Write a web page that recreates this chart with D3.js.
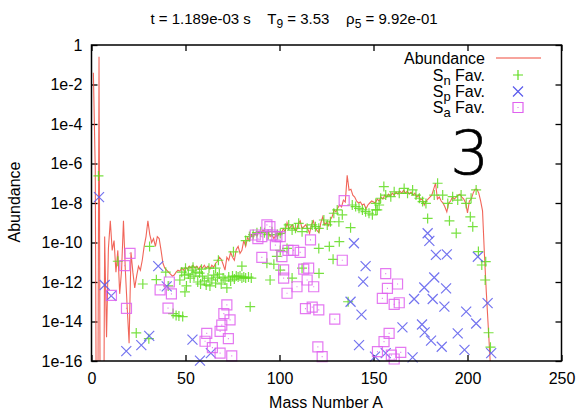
<!DOCTYPE html>
<html>
<head>
<meta charset="utf-8">
<script src="https://cdn.jsdelivr.net/npm/d3@7"></script>
<style>
  body { margin: 0; background: #fff; }
  svg text { font-family: "Liberation Sans", Arial, Helvetica, sans-serif; fill: #000; white-space: pre; }
</style>
</head>
<body>
<svg id="chart" width="577" height="414"></svg>
<script>
// log10 of the summed abundance for mass number A = index + 1
const abundanceLog = [
  -1.4, -6.3, -30, -0.6, -30, -30, -9.7, -14.8, -10.3, -8.9,
  -10.4, -9.9, -11.5, -10.4, -12.6, -11.4, -8.9, -11.4, -13.3, -15.1,
  -10.5, -11.5, -12.3, -11.7, -11.2, -11.4, -10.9, -10.2, -9.7, -8.9,
  -9.6, -10.0, -9.8, -10.2, -9.7, -9.8, -10.4, -11.05, -11.3, -11.4,
  -11.5, -11.6, -11.7, -11.65, -11.5, -11.4, -11.45, -11.3, -11.4, -11.25,
  -11.35, -11.2, -11.3, -11.15, -11.3, -11.2, -11.35, -11.2, -11.3, -11.15,
  -11.3, -11.2, -11.35, -11.15, -11.25, -11.05, -10.95, -10.75, -10.85, -11.1,
  -11.4, -10.75, -10.9, -10.5, -10.75, -10.9, -10.35, -10.2, -10.55, -10.4,
  -9.9, -10.2, -9.75, -9.9, -9.6, -9.7, -9.55, -9.65, -9.45, -9.55,
  -9.4, -9.4, -9.55, -9.45, -9.7, -9.6, -9.8, -9.65, -9.7, -9.5,
  -9.55, -9.3, -9.45, -9.0, -9.3, -9.2, -9.1, -9.35, -9.4, -9.05,
  -8.9, -9.3, -9.2, -9.1, -9.3, -9.55, -9.1, -8.9, -9.25, -9.4,
  -9.5, -9.0, -8.7, -9.1, -9.0, -9.15, -8.85, -8.7, -8.35, -8.45,
  -8.25, -8.1, -8.2, -7.85, -7.95, -6.6, -7.35, -7.3, -7.6, -7.7,
  -7.9, -8.0, -7.95, -8.1, -8.05, -8.3, -8.1, -8.0, -7.9, -7.95,
  -8.0, -7.8, -7.9, -7.7, -7.8, -7.6, -7.7, -7.55, -7.65, -7.5,
  -7.6, -7.45, -7.55, -7.4, -7.5, -7.35, -7.5, -7.4, -7.55, -7.45,
  -7.6, -7.5, -7.7, -7.6, -7.85, -7.8, -8.1, -7.9, -7.8, -7.7,
  -7.6, -7.3, -7.0, -7.8, -7.7, -7.9, -8.0, -8.2, -8.45, -8.0,
  -7.9, -7.7, -7.8, -7.7, -7.6, -7.55, -7.7, -7.8, -8.0, -8.5,
  -7.9, -7.8, -7.5, -7.3, -7.3, -7.5, -7.9, -8.4, -10.6, -12.5,
  -14.2, -15.9, -17.5
];

// nuclei favoured by neutron separation energy: [A, log10 abundance]
const snFavoured = [
  [3.7, -6.63], [14, -10.95], [23.8, -14.58], [27.3, -12.1], [30.5, -14.87], [30.9, -10.2],
  [34.5, -11.88], [39.5, -11.5], [40.8, -12.2], [43.4, -13.6], [45, -13.7], [46.5, -13.72],
  [48.5, -13.75], [49.7, -12.5],
  [47, -11.9], [48, -11.5], [49.5, -11.65], [50.5, -12.2], [51.5, -11.6], [52.5, -11.8],
  [53.5, -11.4], [54.5, -11.7], [55.5, -11.5], [56.5, -12.0], [57.5, -11.55], [58, -12.1],
  [59, -11.7], [60, -11.95], [61, -12.15], [62, -11.8], [63, -12.2], [64, -11.9],
  [65, -11.65], [66, -12.05], [67, -11.75], [68, -11.6], [69, -12.1], [70, -11.8],
  [71, -11.9], [72, -12.3], [73, -11.75], [74, -11.95], [75, -11.7], [76, -11.85],
  [77, -11.7], [78, -11.75], [79, -11.7], [80, -11.8], [81, -11.75], [82, -11.8],
  [83.5, -11.75], [85, -11.8],
  [50, -11.3], [54, -11.25], [58.5, -11.35], [62.5, -11.3], [66, -11.3],
  [67.5, -10.9], [75.5, -10.47], [80, -11.2], [84.4, -13.25], [93.3, -11.05], [95, -11.9],
  [97, -11.1], [98.6, -10.7], [100.4, -10.4], [100.4, -11.4], [104, -10.3], [106.7, -11.8],
  [112, -11.3], [120.9, -10.3], [121, -11.56], [126.5, -10.2], [128.5, -10.85], [131.8, -9.96],
  [136.5, -13.0], [137.8, -9.25], [152, -8.35], [178.8, -8.78], [190.4, -8.9], [194, -9.53],
  [201.5, -8.7], [202.8, -9.2], [205.8, -10.46], [207.6, -11.14], [209.7, -10.97],
  [209.4, -11.9], [211.2, -14.57], [212.2, -15.3],
  [82, -9.9], [84, -9.7], [86, -9.6], [88, -9.5], [90, -9.45], [92, -9.5], [94, -9.6],
  [96, -9.45], [99, -9.6],
  [100.4, -9.54], [103.1, -9.28], [104.9, -9.11], [106.7, -9.37], [108.5, -9.28], [110.2, -9.03],
  [112, -9.45], [114.7, -9.28], [117.4, -9.11], [119.1, -9.2], [120.9, -9.28], [123.6, -8.86],
  [125.4, -9.11], [127.1, -8.95], [128.9, -8.52], [130.7, -8.35], [131.6, -8.95], [133.4, -8.6],
  [138.7, -8.1], [140.5, -8.18], [142.3, -8.27], [144.1, -8.35], [145.8, -8.44], [147.6, -8.52],
  [149.4, -8.6], [151.2, -8.35], [153, -8.1],
  [151.2, -8.02], [153.8, -7.76], [155.5, -7.17], [156.5, -7.6], [159.2, -7.68], [161, -7.43],
  [163.7, -7.51], [166.3, -7.26], [168.1, -7.51], [170.8, -7.34], [172.6, -7.6], [174.4, -7.76],
  [176.1, -7.93], [177.9, -8.02], [182.3, -7.6], [184.1, -7.0], [186.8, -7.6], [189.5, -8.02],
  [192.1, -7.68], [194.8, -7.85], [196.6, -7.6], [199.3, -8.02], [201.9, -7.76], [204.6, -7.34]
];

// nuclei favoured by proton separation energy: [A, log10 abundance]
const spFavoured = [
  [4, -7.7], [7, -12.15], [10.5, -12.7], [18.5, -15.5], [26.5, -15.2], [30.7, -14.73],
  [35.5, -11.2], [40, -12.22], [53.7, -14.92], [57.7, -15.98], [63.5, -15.6],
  [139.6, -10.04], [145.8, -11.2], [144.5, -11.98], [137.8, -13.0], [143.6, -13.65],
  [142.3, -15.2], [150.8, -15.78], [156.5, -15.6], [165.4, -14.3], [170.8, -15.82],
  [171.6, -12.86], [175.8, -14.15], [177.2, -14.55], [177, -12.28], [178.8, -9.53],
  [179.7, -9.92], [181.5, -12.86], [182.3, -11.77], [183.2, -10.63], [180.6, -14.97],
  [186.3, -15.28], [187.7, -13.25], [188.6, -12.32], [189, -10.6], [194.8, -14.6],
  [198.4, -15.44], [199.3, -13.5], [204.6, -14.1], [205.5, -10.72], [210.7, -13.07],
  [212.6, -15.6]
];

// nuclei favoured by alpha separation energy: [A, log10 abundance]
const saFavoured = [
  [10.6, -12.68], [17.7, -11.17], [20.5, -10.55], [18.6, -13.34], [36.5, -12.4], [41.4, -12.0],
  [42.5, -12.6], [40.7, -13.32],
  [60.4, -15.0], [61.3, -14.6], [64.3, -15.32], [68.4, -15.6], [74.6, -15.74], [72, -13.16],
  [70.4, -13.6], [73.7, -13.92], [69.3, -14.18], [68.4, -14.5], [72.8, -14.87],
  [87.1, -9.62], [88.5, -9.8], [90.6, -9.7], [93.3, -9.11], [94.9, -9.2], [96, -9.62],
  [97.8, -10.13], [98.6, -9.7], [100.4, -9.7], [90.6, -10.75], [101.3, -10.72], [102.2, -11.39],
  [102.2, -11.8], [104, -12.57],
  [104.5, -10.4], [107.5, -10.4], [111, -10.5], [116.5, -9.87], [109.3, -12.24], [112.9, -11.35],
  [115.5, -11.3], [114.7, -11.9], [118.2, -12.24], [113.8, -13.35], [117.4, -13.27],
  [120.9, -13.41], [129.4, -13.88], [133.4, -10.9], [134.4, -7.88], [120.4, -15.28], [122.7, -15.78],
  [156.5, -11.58], [162.8, -12.1], [157.4, -12.32], [154.7, -12.83], [161, -13.13], [163.7, -13.05],
  [158.3, -14.6], [155.6, -15.02], [152.1, -15.53], [159.5, -15.7], [164.5, -15.56], [161, -15.9]
];

const xTicks = [0, 50, 100, 150, 200, 250];
const yTicks = [1, 1e-2, 1e-4, 1e-6, 1e-8, 1e-10, 1e-12, 1e-14, 1e-16];
const legendLabels = [
  { main: "Abundance" },
  { main: "S", sub: "n", tail: "Fav." },
  { main: "S", sub: "p", tail: "Fav." },
  { main: "S", sub: "a", tail: "Fav." }
];

const colors = { line: "#ef4a3c", sn: "#5fdc1e", sp: "#5a5aec", sa: "#df62ef" };

const svg = d3.select("#chart");
const plotLeft = 91.5, plotRight = 561.5, plotTop = 45, plotBottom = 361;

const x = d3.scaleLinear().domain([0, 250]).range([plotLeft, plotRight]);
const y = d3.scaleLog().domain([1e-16, 1]).range([plotBottom, plotTop]);

// title with subscripts
const title = svg.append("text").attr("x", 294).attr("y", 24)
  .attr("text-anchor", "middle").style("font-size", "15px");
title.append("tspan").text("t = 1.189e-03 s    T");
title.append("tspan").attr("dy", 4).style("font-size", "12px").text("9");
title.append("tspan").attr("dy", -4).text(" = 3.53    \u03c1");
title.append("tspan").attr("dy", 4).style("font-size", "12px").text("5");
title.append("tspan").attr("dy", -4).text(" = 9.92e-01");

// axes with inward ticks on all four sides
const fmtY = d => d === 1 ? "1" : "1e" + Math.round(Math.log10(d));
const axisStyle = g => {
  g.select(".domain").remove();
  g.selectAll(".tick line").attr("stroke", "#000").attr("stroke-width", 1.3);
  g.selectAll("text").style("font-size", "16px").attr("fill", "#000");
};
svg.append("g").attr("transform", `translate(0,${plotBottom})`)
  .call(d3.axisBottom(x).tickValues(xTicks).tickSize(-6).tickPadding(12)).call(axisStyle);
svg.append("g").attr("transform", `translate(0,${plotTop})`)
  .call(d3.axisTop(x).tickValues(xTicks).tickSize(-6).tickFormat("")).call(axisStyle);
svg.append("g").attr("transform", `translate(${plotLeft},0)`)
  .call(d3.axisLeft(y).tickValues(yTicks).tickFormat(fmtY).tickSize(-6).tickPadding(9)).call(axisStyle);
svg.append("g").attr("transform", `translate(${plotRight},0)`)
  .call(d3.axisRight(y).tickValues(yTicks).tickFormat("").tickSize(-6)).call(axisStyle);

// axis titles
svg.append("text").attr("x", 326).attr("y", 408).attr("text-anchor", "middle")
  .style("font-size", "16px").text("Mass Number A");
svg.append("text").attr("transform", "translate(20,202) rotate(-90)")
  .attr("text-anchor", "middle").style("font-size", "16px").text("Abundance");

svg.append("clipPath").attr("id", "plotClip").append("rect")
  .attr("x", plotLeft).attr("y", plotTop).attr("width", plotRight - plotLeft).attr("height", plotBottom - plotTop);

// abundance curve
const line = d3.line().x((d, i) => x(i + 1)).y(d => y(Math.pow(10, d)));
svg.append("path").datum(abundanceLog).attr("clip-path", "url(#plotClip)")
  .attr("d", line).attr("fill", "none").attr("stroke", colors.line)
  .attr("stroke-width", 1.1).attr("stroke-opacity", 0.85);

const s = 5;
const plus = `M${-s},0H${s}M0,${-s}V${s}`;
const cross = `M${-s},${-s}L${s},${s}M${-s},${s}L${s},${-s}`;
const square = `M${-s},${-s}H${s}V${s}H${-s}Z M-0.5,0H0.5`;

function drawMarkers(data, shape, color) {
  svg.append("g").selectAll("path").data(data).join("path")
    .attr("transform", d => `translate(${x(d[0])},${y(Math.pow(10, d[1]))})`)
    .attr("d", shape).attr("fill", "none").attr("stroke", color)
    .attr("stroke-width", 1.2).attr("stroke-opacity", 0.85);
}
drawMarkers(snFavoured, plus, colors.sn);
drawMarkers(spFavoured, cross, colors.sp);
drawMarkers(saFavoured, square, colors.sa);

// frame
svg.append("rect").attr("x", plotLeft).attr("y", plotTop).attr("width", plotRight - plotLeft)
  .attr("height", plotBottom - plotTop).attr("fill", "none").attr("stroke", "#000").attr("stroke-width", 1.5);

// legend: symbol name and "Fav." are set as separate right-aligned pieces
const legend = svg.append("g");
const rowY = [64, 80.5, 97, 113];
const legendRight = 485;
legendLabels.forEach((lab, i) => {
  if (!lab.sub) {
    legend.append("text").attr("x", legendRight).attr("y", rowY[i])
      .attr("text-anchor", "end").style("font-size", "16px").text(lab.main);
    return;
  }
  const fav = legend.append("text").attr("x", legendRight).attr("y", rowY[i])
    .attr("text-anchor", "end").style("font-size", "16px").text(lab.tail);
  const favStart = legendRight - fav.node().getComputedTextLength() - 4.4;
  const t = legend.append("text").attr("x", favStart).attr("y", rowY[i])
    .attr("text-anchor", "end").style("font-size", "16px");
  t.append("tspan").text(lab.main);
  t.append("tspan").attr("dy", 4).style("font-size", "13px").text(lab.sub);
});
legend.append("line").attr("x1", 496).attr("x2", 541).attr("y1", 58).attr("y2", 58)
  .attr("stroke", colors.line).attr("stroke-width", 1.1);
[[plus, colors.sn], [cross, colors.sp], [square, colors.sa]].forEach((m, i) => {
  legend.append("path").attr("transform", `translate(518,${rowY[i + 1] - 5.5})`)
    .attr("d", m[0]).attr("fill", "none").attr("stroke", m[1]).attr("stroke-width", 1.2);
});

// panel number in a light face
svg.append("text").attr("x", 489).attr("y", 173.5)
  .attr("text-anchor", "end").style("font-size", "61px")
  .style("font-family", "'DejaVu Sans', sans-serif").style("font-weight", "200")
  .style("stroke", "#000").style("stroke-width", "0.7px")
  .text("3");
</script>
</body>
</html>
